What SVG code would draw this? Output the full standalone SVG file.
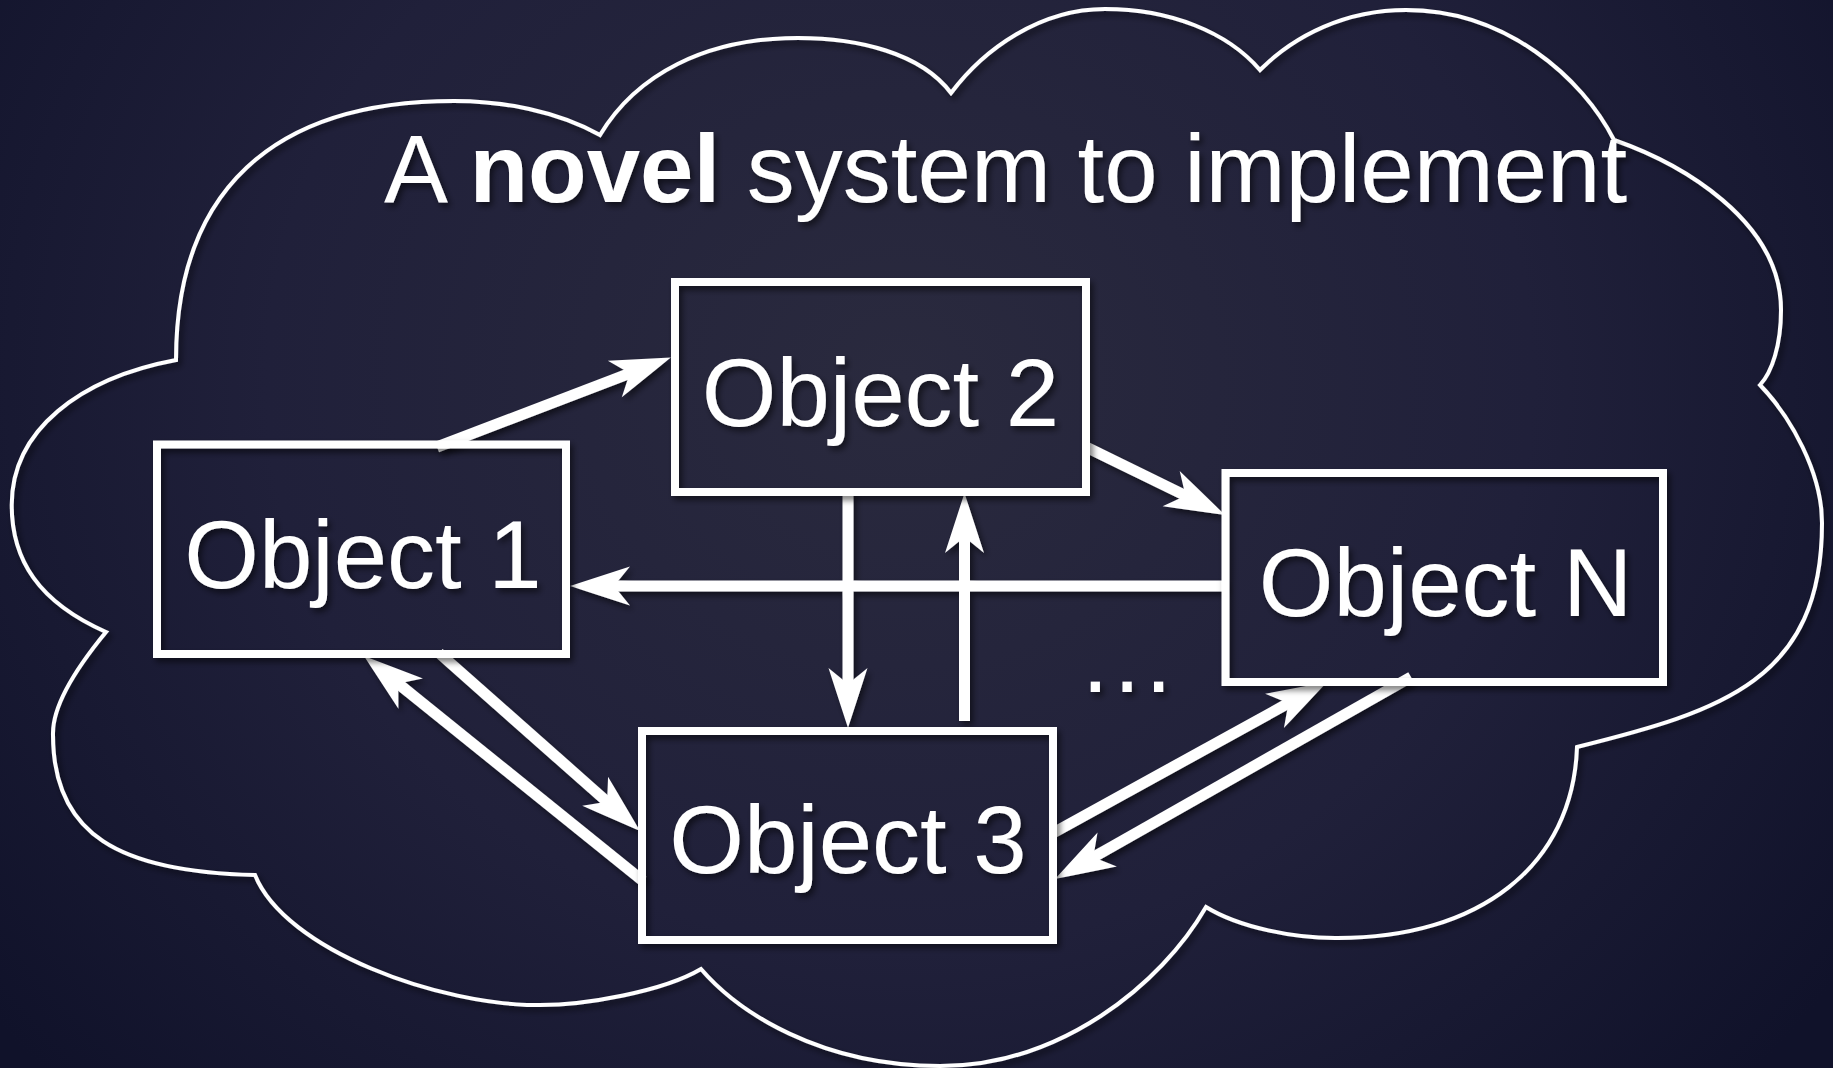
<svg xmlns="http://www.w3.org/2000/svg" width="1833" height="1068" viewBox="0 0 1833 1068">
  <defs>
    <radialGradient id="bg" gradientUnits="userSpaceOnUse" cx="900" cy="380" r="1150" gradientTransform="translate(900 380) scale(1 0.9) translate(-900 -380)">
      <stop offset="0" stop-color="#2a2a3e"/>
      <stop offset="0.55" stop-color="#20203a"/>
      <stop offset="1" stop-color="#10122a"/>
    </radialGradient>
    <filter id="shadow" x="-10%" y="-10%" width="120%" height="120%">
      <feDropShadow dx="3" dy="4" stdDeviation="3" flood-color="#000" flood-opacity="0.55"/>
    </filter>
    <marker id="head" markerUnits="userSpaceOnUse" viewBox="-25 -25 70 50" markerWidth="70" markerHeight="50" refX="0" refY="0" orient="auto">
      <path d="M40,0 L-20,-19.5 L-4,0 L-20,19.5 Z" fill="#fff"/>
    </marker>
    <style>
      .box { fill: none; stroke: #fff; stroke-width: 8; }
      .label { font-family: "Liberation Sans", Arial, sans-serif; font-size: 96px; fill: #fff; text-anchor: middle; }
      .title { font-family: "Liberation Sans", Arial, sans-serif; font-size: 96px; fill: #fff; }
      .conn { stroke: #fff; stroke-width: 11; fill: none; marker-end: url(#head); }
    </style>
  </defs>

  <rect width="1833" height="1068" fill="url(#bg)"/>

  <!-- outer cloud outline -->
  <g id="cloud" filter="url(#shadow)">
    <path fill="none" stroke="#fff" stroke-width="4" stroke-linejoin="miter" d="M176,360
      C176,192 272,101 454,101
      C503,101 557,111 600,135
      C636,75 705,38 798,38
      C858,38 921,53 951,93
      C984,49 1040,9 1105,9
      C1170,9 1227.5,32 1260,70
      C1295,35 1346,10 1406,10
      C1506,10 1582.5,78 1614,140
      C1680,163 1781,220 1781,310
      C1781,345 1772,372 1760,385
      C1791,417 1822,473 1822,523
      C1822,680 1722,711 1577,747
      C1573,865 1480,939 1335,938
      C1295,938 1240,928 1206,907
      C1161,985 1060,1066 940,1066
      C820,1066 738,1012 701,969
      C663,991.5 585,1005 540,1005
      C440,1006 285,950 255,875
      C120,872 52,835 53,733
      C53,700 87,655 106,632
      C38.5,602 11.7,560 11.7,505
      C11.7,430 80,378 176,360 Z"/>
  </g>

  <g id="title" filter="url(#shadow)">
    <text class="title" x="384" y="202">A <tspan font-weight="bold">novel</tspan> system to implement</text>
  </g>

  <!-- connectors -->
  <g id="connectors" filter="url(#shadow)">
    <line class="conn" x1="437" y1="447" x2="633.5" y2="371.9"/>
    <line class="conn" x1="1086" y1="447" x2="1189.1" y2="497.4"/>
    <line class="conn" x1="1225" y1="586" x2="610" y2="586"/>
    <line class="conn" x1="848" y1="492" x2="848" y2="688"/>
    <line class="conn" x1="964.5" y1="721" x2="964.5" y2="533"/>
    <line class="conn" x1="439" y1="653" x2="610.1" y2="804.5"/>
    <line class="conn" x1="643" y1="881" x2="395.1" y2="681.1"/>
    <line class="conn" x1="1053" y1="833" x2="1292" y2="701.3"/>
    <line class="conn" x1="1411" y1="677" x2="1089.8" y2="859.3"/>
  </g>

  <g id="object1" filter="url(#shadow)">
    <rect class="box" x="157" y="444.5" width="409" height="209.5"/>
    <text class="label" x="363" y="588">Object 1</text>
  </g>
  <g id="object2" filter="url(#shadow)">
    <rect class="box" x="675" y="282" width="411" height="210"/>
    <text class="label" x="880.5" y="425.7">Object 2</text>
  </g>
  <g id="objectN" filter="url(#shadow)">
    <rect class="box" x="1225.5" y="473" width="437.5" height="209"/>
    <text class="label" x="1445.5" y="615.7">Object N</text>
  </g>
  <g id="object3" filter="url(#shadow)">
    <rect class="box" x="642" y="731" width="411" height="209"/>
    <text class="label" x="848" y="873.3">Object 3</text>
  </g>

  <g id="ellipsis" filter="url(#shadow)">
    <text class="title" x="1082" y="692" letter-spacing="5">...</text>
  </g>
</svg>
